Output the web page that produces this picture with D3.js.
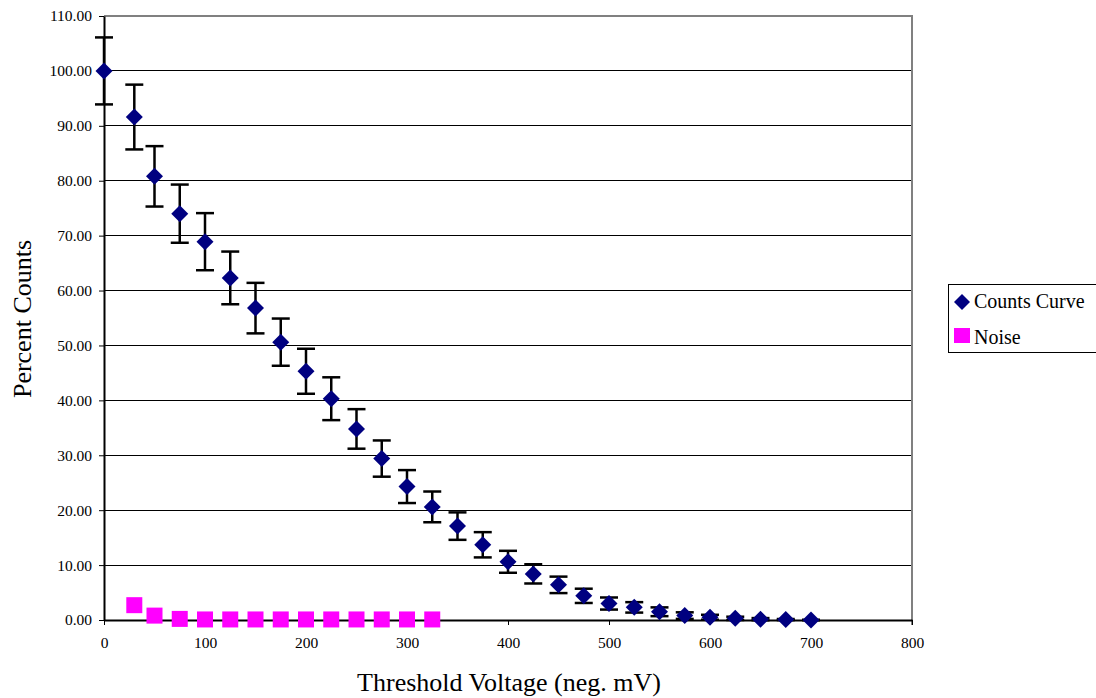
<!DOCTYPE html>
<html>
<head>
<meta charset="utf-8">
<script src="https://cdn.jsdelivr.net/npm/d3@7"></script>
<style>
  html, body { margin: 0; padding: 0; background: #fff; }
  svg { display: block; font-family: "Liberation Serif", "Times New Roman", serif; }
</style>
</head>
<body>
<svg id="chart" width="1096" height="698"></svg>
<script>
// Threshold scan: percent of counts vs. threshold voltage
const thresholds = [0, 30, 50, 75, 100, 125, 150, 175, 200, 225, 250, 275, 300, 325, 350,
  375, 400, 425, 450, 475, 500, 525, 550, 575, 600, 625, 650, 675, 700];
const countsPct = [100.0, 91.6, 80.8, 74.0, 68.9, 62.3, 56.8, 50.6, 45.3, 40.3, 34.8, 29.4,
  24.3, 20.6, 17.1, 13.7, 10.6, 8.4, 6.4, 4.4, 3.0, 2.3, 1.5, 0.8, 0.5, 0.3, 0.15, 0.08, 0.0];
const countsErr = [6.1, 5.9, 5.5, 5.3, 5.2, 4.8, 4.6, 4.3, 4.1, 3.9, 3.6, 3.3, 3.0, 2.8, 2.5,
  2.3, 2.0, 1.75, 1.5, 1.3, 1.1, 0.95, 0.8, 0.6, 0.45, 0.3, 0.2, 0.1, 0.05];

const noiseThresholds = [30, 50, 75, 100, 125, 150, 175, 200, 225, 250, 275, 300, 325];
const noisePct = [2.7, 0.8, 0.2, 0.1, 0.1, 0.1, 0.1, 0.1, 0.1, 0.1, 0.1, 0.1, 0.1];

const xTicks = [0, 100, 200, 300, 400, 500, 600, 700, 800];
const yTicks = [0, 10, 20, 30, 40, 50, 60, 70, 80, 90, 100, 110];

const seriesNames = ["Counts Curve", "Noise"];
const seriesColors = ["#000080", "#FF00FF"];

const serif = "'Liberation Serif', 'Times New Roman', serif";
const svg = d3.select("#chart");
const plot = { left: 104, right: 912, top: 16, bottom: 620 };

const x = d3.scaleLinear().domain([0, 800]).range([plot.left, plot.right]);
const y = d3.scaleLinear().domain([0, 110]).range([plot.bottom, plot.top]);

// horizontal gridlines
svg.append("g")
  .selectAll("line")
  .data(yTicks.filter(v => v > 0 && v < 110))
  .join("line")
  .attr("x1", plot.left).attr("x2", plot.right)
  .attr("y1", d => y(d)).attr("y2", d => y(d))
  .attr("stroke", "#000").attr("stroke-width", 1)
  .attr("shape-rendering", "crispEdges");

// plot-area frame (top and right in grey)
svg.append("path")
  .attr("d", `M${plot.left},${plot.top}H${plot.right}V${plot.bottom + 5}`)
  .attr("fill", "none").attr("stroke", "#808080").attr("stroke-width", 2)
  .attr("shape-rendering", "crispEdges");

// axes
const xAxis = d3.axisBottom(x).tickValues(xTicks).tickFormat(d3.format("d"))
  .tickSizeOuter(0).tickSizeInner(5).tickPadding(12);
const yAxis = d3.axisLeft(y).tickValues(yTicks).tickFormat(d3.format(".2f"))
  .tickSizeOuter(0).tickSizeInner(5).tickPadding(7);

const gx = svg.append("g").attr("transform", `translate(0,${plot.bottom})`).call(xAxis);
const gy = svg.append("g").attr("transform", `translate(${plot.left},0)`).call(yAxis);
[gx, gy].forEach(g => {
  g.attr("font-family", serif).attr("font-size", 15.5);
  g.select(".domain").attr("stroke", "#000").attr("stroke-width", 2);
  g.selectAll(".tick line").attr("stroke", "#000").attr("stroke-width", 1);
  g.selectAll(".tick text").attr("fill", "#000");
});

// axis titles
svg.append("text")
  .attr("x", 509).attr("y", 691)
  .attr("text-anchor", "middle")
  .style("font-size", "26px")
  .text("Threshold Voltage (neg. mV)");
svg.append("text")
  .attr("transform", `translate(31,${319}) rotate(-90)`)
  .attr("text-anchor", "middle")
  .style("font-size", "26px")
  .text("Percent Counts");

// error bars
const counts = thresholds.map((t, i) => ({ t, v: countsPct[i], e: countsErr[i] }));
const capHalf = 9;
const eb = svg.append("g").attr("stroke", "#000").attr("stroke-width", 2.5);
counts.forEach(d => {
  eb.append("line").attr("x1", x(d.t)).attr("x2", x(d.t))
    .attr("y1", y(d.v + d.e)).attr("y2", y(d.v - d.e));
  [d.v + d.e, d.v - d.e].forEach(v => {
    eb.append("line").attr("x1", x(d.t) - capHalf).attr("x2", x(d.t) + capHalf)
      .attr("y1", y(v)).attr("y2", y(v));
  });
});

// noise markers
const noise = noiseThresholds.map((t, i) => ({ t, v: noisePct[i] }));
const sq = 16;
svg.append("g")
  .selectAll("rect")
  .data(noise)
  .join("rect")
  .attr("x", d => x(d.t) - sq / 2).attr("y", d => y(d.v) - sq / 2)
  .attr("width", sq).attr("height", sq)
  .attr("fill", seriesColors[1]);

// counts markers (diamonds)
const diamond = (cx, cy, r) => `M${cx},${cy - r}L${cx + r},${cy}L${cx},${cy + r}L${cx - r},${cy}Z`;
svg.append("g")
  .selectAll("path")
  .data(counts)
  .join("path")
  .attr("d", d => diamond(x(d.t), y(d.v), 8.5))
  .attr("fill", seriesColors[0]);

// legend
const lg = svg.append("g").attr("transform", "translate(948,284)");
lg.append("rect").attr("width", 148).attr("height", 68)
  .attr("fill", "#fff").attr("stroke", "#000").attr("stroke-width", 1)
  .attr("shape-rendering", "crispEdges");
lg.append("path").attr("d", diamond(14, 18, 8)).attr("fill", seriesColors[0]);
lg.append("rect").attr("x", 6).attr("y", 44).attr("width", 16).attr("height", 15)
  .attr("fill", seriesColors[1]);
lg.selectAll("text.lbl")
  .data(seriesNames)
  .join("text")
  .attr("class", "lbl")
  .attr("x", 26).attr("y", (d, i) => 24 + i * 36)
  .style("font-size", "20px")
  .text(d => d);
</script>
</body>
</html>
